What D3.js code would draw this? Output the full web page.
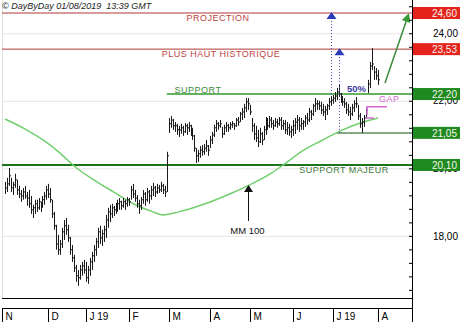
<!DOCTYPE html>
<html>
<head>
<meta charset="utf-8">
<script src="https://cdn.jsdelivr.net/npm/d3@7"></script>
<style>
  body { margin: 0; background: #fff; }
  svg { display: block; font-family: "Liberation Sans", Arial, sans-serif; }
</style>
</head>
<body>
<svg id="chart" width="460" height="322"></svg>
<script>
// trading calendar
const startDay = "2018-11-01";
const endDay = "2019-08-01";
const holidays = ["2018-12-25", "2018-12-26", "2019-01-01", "2019-04-19", "2019-04-22", "2019-05-01"];
const monthLabels = ["N", "D", "J 19", "F", "M", "A", "M", "J", "J 19", "A"];

// daily bars (high / low / close), one per trading day
const highs = [
  19.60,19.72,20.01,19.72,19.60,19.84,19.66,19.48,19.36,19.42,
  19.48,19.30,19.36,19.18,18.92,19.07,19.07,19.12,19.01,19.18,
  19.30,19.48,19.54,19.42,19.07,18.71,18.33,18.03,17.88,18.24,
  18.47,18.53,18.33,17.97,17.73,17.44,17.14,16.99,17.14,17.23,
  17.29,17.23,17.11,17.35,17.53,17.73,17.94,18.24,18.30,18.18,
  18.30,18.62,18.83,18.92,18.95,18.89,18.98,19.07,19.12,19.04,
  19.12,19.07,19.15,19.12,19.48,19.54,19.36,19.21,19.07,19.15,
  19.36,19.30,19.42,19.36,19.48,19.57,19.48,19.54,19.51,19.60,
  19.54,19.48,20.49,21.49,21.55,21.46,21.37,21.32,21.26,21.32,
  21.26,21.34,21.32,21.37,21.29,21.20,20.99,20.60,20.54,20.66,
  20.69,20.72,20.84,20.69,20.96,21.08,21.29,21.43,21.37,21.43,
  21.23,21.29,21.37,21.32,21.37,21.40,21.34,21.49,21.52,21.67,
  21.79,21.91,22.08,22.08,21.88,21.49,21.34,21.26,21.14,21.20,
  21.08,21.26,21.52,21.49,21.55,21.52,21.43,21.49,21.46,21.52,
  21.52,21.43,21.43,21.37,21.32,21.26,21.43,21.49,21.58,21.52,
  21.49,21.43,21.58,21.64,21.79,21.73,21.91,22.08,22.02,22.00,
  21.97,21.91,21.85,21.91,22.08,22.14,22.17,22.26,22.38,22.47,
  22.23,22.14,22.08,21.97,21.91,21.82,21.91,22.02,22.11,21.88,
  21.64,21.49,21.58,21.79,22.62,23.15,23.56,23.03,22.97,22.91
];
const lows = [
  19.24,19.30,19.48,19.30,19.21,19.42,19.21,19.12,19.01,19.07,
  19.10,18.89,18.83,18.65,18.53,18.65,18.71,18.77,18.71,18.83,
  18.92,19.07,19.12,18.98,18.53,18.18,17.59,17.44,17.44,17.64,
  17.88,18.03,17.82,17.44,17.23,16.93,16.64,16.52,16.70,16.82,
  16.88,16.64,16.58,16.82,16.99,17.23,17.41,17.64,17.76,17.70,
  17.82,17.94,18.24,18.41,18.53,18.59,18.65,18.71,18.77,18.77,
  18.83,18.77,18.86,18.89,19.07,19.12,19.01,18.83,18.65,18.77,
  18.95,18.89,19.01,18.95,19.07,19.18,19.15,19.24,19.27,19.30,
  19.24,19.15,19.30,21.05,21.20,21.14,21.08,20.99,20.93,21.02,
  20.96,21.05,20.99,21.08,20.96,20.84,20.49,20.16,20.19,20.31,
  20.37,20.40,20.49,20.37,20.60,20.72,20.93,21.08,21.14,21.20,
  20.90,20.99,21.08,21.08,21.14,21.20,21.14,21.23,21.26,21.37,
  21.43,21.49,21.67,21.73,21.58,21.08,20.84,20.78,20.63,20.75,
  20.69,20.84,20.99,21.14,21.20,21.20,21.14,21.23,21.20,21.26,
  21.14,21.14,21.02,20.99,20.96,20.90,20.96,21.02,21.14,21.08,
  21.14,21.14,21.23,21.29,21.37,21.43,21.55,21.67,21.73,21.73,
  21.61,21.55,21.43,21.58,21.73,21.85,21.91,21.97,22.02,22.11,
  21.94,21.85,21.79,21.61,21.55,21.43,21.55,21.67,21.79,21.43,
  21.20,21.05,21.23,21.49,22.23,22.38,22.91,22.62,22.62,22.47
];
const closes = [
  19.42,19.54,19.78,19.42,19.51,19.66,19.36,19.24,19.18,19.30,
  19.18,19.12,18.95,18.77,18.83,18.95,18.83,19.01,18.89,19.07,
  19.18,19.36,19.24,19.07,18.65,18.30,17.76,17.59,17.76,18.12,
  18.30,18.18,17.94,17.59,17.35,17.05,16.82,16.76,16.99,17.11,
  16.99,16.76,16.99,17.23,17.41,17.59,17.82,18.12,17.94,18.06,
  18.18,18.47,18.71,18.65,18.83,18.77,18.89,18.95,19.01,18.89,
  19.01,18.95,19.07,19.01,19.36,19.24,19.12,18.95,18.89,19.07,
  19.24,19.07,19.30,19.18,19.36,19.42,19.30,19.42,19.36,19.48,
  19.36,19.30,20.37,21.32,21.43,21.26,21.26,21.14,21.14,21.20,
  21.08,21.26,21.20,21.26,21.14,20.96,20.60,20.37,20.43,20.54,
  20.49,20.60,20.66,20.54,20.84,20.99,21.20,21.32,21.26,21.32,
  21.02,21.20,21.26,21.20,21.29,21.32,21.26,21.43,21.37,21.61,
  21.67,21.79,21.97,21.91,21.67,21.26,21.02,20.90,20.78,21.02,
  20.84,21.14,21.43,21.26,21.43,21.32,21.26,21.37,21.32,21.43,
  21.26,21.32,21.14,21.20,21.08,21.14,21.26,21.37,21.43,21.26,
  21.32,21.37,21.49,21.43,21.67,21.61,21.85,21.91,21.91,21.85,
  21.73,21.67,21.73,21.85,21.97,22.02,22.08,22.14,22.26,22.20,
  22.02,21.97,21.91,21.73,21.67,21.61,21.79,21.91,21.91,21.55,
  21.32,21.37,21.49,21.73,22.50,23.03,23.09,22.85,22.74,22.62
];

// 100 day moving average, read at some trading days
const mmDay = [0, 10, 20, 30, 35, 45, 55, 65, 75, 80, 88, 100, 115, 125, 135, 141, 150, 160, 170, 180, 189];
const mmValue = [21.46, 21.17, 20.81, 20.34, 20.07, 19.66, 19.30, 18.95, 18.71, 18.62, 18.71, 18.92, 19.27, 19.54, 19.86, 20.10, 20.49, 20.81, 21.11, 21.34, 21.49];

// horizontal levels
const levelValues = [24.60, 23.53, 22.20, 21.05, 20.10];
const levelTexts = ["24,60", "23,53", "22,20", "21,05", "20,10"];
const levelNames = ["PROJECTION", "PLUS HAUT HISTORIQUE", "SUPPORT", "", "SUPPORT MAJEUR"];
const levelStartDay = [null, null, 82, 168, null];

const gridValues = [18, 20, 22, 24];
const minorTicks = d3.range(16.4, 24.9, 0.4);
const gapTop = 21.82, gapBottom = 21.49;

// ---- setup
const fmt = d3.utcFormat("%Y-%m-%d");
const dates = d3.utcDay.range(new Date(startDay), d3.utcDay.offset(new Date(endDay), 1))
  .filter(d => d.getUTCDay() % 6 !== 0 && !holidays.includes(fmt(d)))
  .map(fmt);

const plot = {left: 2, right: 412, top: 0, bottom: 298};
const svg = d3.select('#chart');

const x = d3.scalePoint().domain(dates).range([5, 378]);
const y = d3.scaleLinear().domain([16.16, 24.985]).range([plot.bottom, plot.top]);
const px = v => Math.round(v) + 0.5;

/* GRID */
svg.append('g')
  .attr('transform', `translate(${plot.right},0)`)
  .call(d3.axisLeft(y).tickValues(gridValues).tickSize(plot.right - plot.left).tickFormat(''))
  .call(g => g.select('.domain').remove())
  .selectAll('line').attr('stroke', '#e6e6e6');

// left edge
svg.append('line')
  .attr('x1', plot.left + 0.5).attr('x2', plot.left + 0.5)
  .attr('y1', 0).attr('y2', plot.bottom)
  .attr('stroke', '#e0e0e0');

/* LEVEL LINES */
const levelColor = ['#b03838', '#b03838', '#2f9a2f', '#5f8a5f', '#1d741d'];
const levelWidth = [1, 1, 1.5, 1.5, 2];
levelValues.forEach((v, i) => {
  const x0 = levelStartDay[i] == null ? plot.left : x(dates[levelStartDay[i]]);
  svg.append('line')
    .attr('x1', x0).attr('x2', plot.right)
    .attr('y1', y(v)).attr('y2', y(v))
    .attr('stroke', levelColor[i]).attr('stroke-width', levelWidth[i]);
});

// level names
const nameStyle = [
  {cx: 218, dy: 8, fill: '#c04444'},
  {cx: 221, dy: 8, fill: '#c04444'},
  {cx: 198, dy: -1.5, fill: '#3e8a3e'},
  null,
  {cx: 344, dy: 8, fill: '#3e7a3e'}
];
levelNames.forEach((t, i) => {
  if (!t) return;
  svg.append('text')
    .attr('x', nameStyle[i].cx).attr('y', y(levelValues[i]) + nameStyle[i].dy)
    .attr('text-anchor', 'middle')
    .attr('font-size', 9).attr('letter-spacing', 0.5)
    .attr('fill', nameStyle[i].fill)
    .text(t);
});

/* MM 100 */
const mmLine = d3.line()
  .x(d => x(dates[d[0]]))
  .y(d => y(d[1]))
  .curve(d3.curveMonotoneX);
svg.append('path')
  .datum(mmDay.map((d, i) => [d, mmValue[i]]))
  .attr('d', mmLine)
  .attr('fill', 'none')
  .attr('stroke', '#72cf6e')
  .attr('stroke-width', 1.5);

/* BARS */
const bars = dates.map((d, i) => ({d, h: highs[i], l: lows[i], c: closes[i]}));
const barG = svg.append('g').attr('stroke', '#1a1a1a').attr('stroke-width', 1);
barG.selectAll('line.hl').data(bars).join('line')
  .attr('class', 'hl')
  .attr('x1', d => px(x(d.d))).attr('x2', d => px(x(d.d)))
  .attr('y1', d => y(d.h)).attr('y2', d => y(d.l));
barG.selectAll('line.c').data(bars).join('line')
  .attr('class', 'c')
  .attr('x1', d => px(x(d.d))).attr('x2', d => px(x(d.d)) + 1.5)
  .attr('y1', d => y(d.c)).attr('y2', d => y(d.c));

/* PROJECTION MARKERS */
const markers = [
  {day: 165, from: levelValues[2], to: levelValues[0]},
  {day: 169, from: levelValues[3], to: levelValues[1]}
];
markers.forEach(m => {
  const mx = px(x(dates[m.day]));
  svg.append('line')
    .attr('x1', mx).attr('x2', mx)
    .attr('y1', y(m.from)).attr('y2', y(m.to) + 6)
    .attr('stroke', '#4646b8').attr('stroke-width', 1)
    .attr('stroke-dasharray', '1,2');
  const ty = y(m.to);
  svg.append('path')
    .attr('d', `M${mx},${ty - 1}L${mx + 5},${ty + 6}L${mx - 5},${ty + 6}Z`)
    .attr('fill', '#2a3ab8');
});

svg.append('text')
  .attr('x', 347).attr('y', y(22.20) - 2)
  .attr('font-size', 9.5).attr('font-weight', 'bold')
  .attr('fill', '#3c3ca4')
  .text('50%');

/* GAP */
const gapG = svg.append('g').attr('stroke', '#d46ad4').attr('stroke-width', 1.5).attr('fill', 'none');
gapG.append('path').attr('d', `M367,${y(gapTop) + 8}V${y(gapTop)}H387`);
gapG.append('path').attr('d', `M365,${y(gapBottom)}H374`);
svg.append('text')
  .attr('x', 379).attr('y', y(gapTop) - 5)
  .attr('font-size', 9).attr('letter-spacing', 0.5)
  .attr('fill', '#d46ad4')
  .text('GAP');

/* ARROWS */
const lastX = x(dates[dates.length - 1]);
const ax0 = lastX + 7, ay0 = y(22.53), ax1 = 409, ay1 = y(levelValues[0]);
const ang = Math.atan2(ay1 - ay0, ax1 - ax0);
svg.append('line')
  .attr('x1', ax0).attr('y1', ay0)
  .attr('x2', ax1 - 6 * Math.cos(ang)).attr('y2', ay1 - 6 * Math.sin(ang))
  .attr('stroke', '#3a8a3a').attr('stroke-width', 1.5);
svg.append('path')
  .attr('d', d3.line()([
    [ax1, ay1],
    [ax1 - 9 * Math.cos(ang) + 4.5 * Math.sin(ang), ay1 - 9 * Math.sin(ang) - 4.5 * Math.cos(ang)],
    [ax1 - 9 * Math.cos(ang) - 4.5 * Math.sin(ang), ay1 - 9 * Math.sin(ang) + 4.5 * Math.cos(ang)]
  ]) + 'Z')
  .attr('fill', '#3a9a3a');

// MM 100 pointer
const mmx = px(x(dates[123]));
svg.append('line')
  .attr('x1', mmx).attr('x2', mmx)
  .attr('y1', 221).attr('y2', 190)
  .attr('stroke', '#111').attr('stroke-width', 1);
svg.append('path')
  .attr('d', `M${mmx},185L${mmx + 4.5},192L${mmx - 4.5},192Z`)
  .attr('fill', '#111');
svg.append('text')
  .attr('x', mmx - 1).attr('y', 234)
  .attr('text-anchor', 'middle')
  .attr('font-size', 9.5).attr('fill', '#111')
  .text('MM 100');

/* RIGHT AXIS */
svg.append('g')
  .attr('transform', `translate(${plot.right},0)`)
  .call(d3.axisLeft(y).tickValues(minorTicks).tickSize(3).tickSizeOuter(0).tickFormat(''))
  .call(g => g.select('.domain').remove())
  .selectAll('line').attr('stroke', '#000');

svg.append('g')
  .attr('transform', `translate(${plot.right},0)`)
  .call(d3.axisRight(y).tickValues(gridValues).tickSize(0).tickFormat(d => d3.format('.2f')(d).replace('.', ',')))
  .call(g => g.select('.domain').remove())
  .selectAll('text')
  .attr('x', 46).attr('text-anchor', 'end')
  .attr('font-size', 10).attr('font-family', '"Liberation Sans", Arial, sans-serif')
  .attr('fill', '#000');

svg.append('line')
  .attr('x1', plot.right + 0.5).attr('x2', plot.right + 0.5)
  .attr('y1', 0).attr('y2', 322)
  .attr('stroke', '#000');

// level boxes
const boxFill = ['#e4231d', '#e4231d', '#1f8a1f', '#1f8a1f', '#1f8a1f'];
levelValues.forEach((v, i) => {
  svg.append('rect')
    .attr('x', plot.right + 1).attr('y', y(v) - 6)
    .attr('width', 460 - plot.right - 1).attr('height', 12)
    .attr('fill', boxFill[i]);
  svg.append('text')
    .attr('x', 457).attr('y', y(v) + 4)
    .attr('text-anchor', 'end')
    .attr('font-size', 10).attr('fill', '#f4f4ea')
    .text(levelTexts[i]);
});

/* DATE BAND */
svg.append('line')
  .attr('x1', plot.left).attr('x2', plot.right)
  .attr('y1', plot.bottom + 0.5).attr('y2', plot.bottom + 0.5)
  .attr('stroke', '#000');
svg.append('line')
  .attr('x1', plot.left).attr('x2', plot.right)
  .attr('y1', 308.5).attr('y2', 308.5)
  .attr('stroke', '#000');

const monthStarts = dates.filter((d, i) => i === 0 || d.slice(5, 7) !== dates[i - 1].slice(5, 7));
const sepX = monthStarts.map((d, i) => i === 0 ? plot.left + 0.5 : px(x(d)));
const band = svg.append('g');
band.selectAll('line').data(sepX).join('line')
  .attr('x1', d => d).attr('x2', d => d)
  .attr('y1', 308).attr('y2', 322)
  .attr('stroke', '#000');
band.selectAll('text').data(sepX).join('text')
  .attr('x', d => d + 3).attr('y', 320)
  .attr('font-size', 10).attr('fill', '#000')
  .text((d, i) => monthLabels[i]);

/* HEADER */
svg.append('text')
  .attr('x', 2).attr('y', 9)
  .attr('font-size', 9).attr('font-style', 'italic')
  .attr('fill', '#222')
  .text('\u00a9 DayByDay 01/08/2019\u00a0\u00a013:39 GMT');
</script>
</body>
</html>
